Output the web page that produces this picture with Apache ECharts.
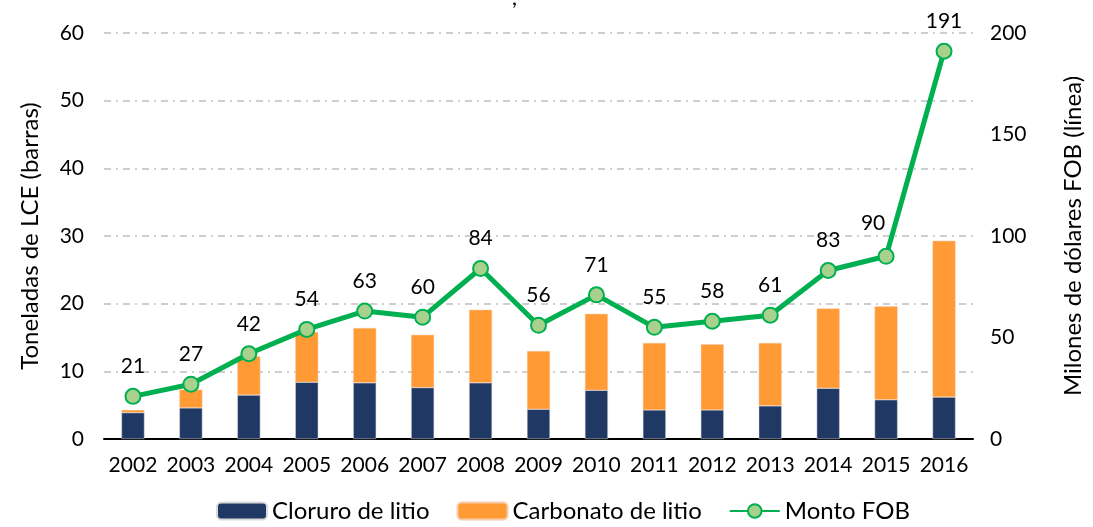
<!DOCTYPE html>
<html>
<head>
<meta charset="utf-8">
<script src="https://cdn.jsdelivr.net/npm/echarts@6/dist/echarts.min.js"></script>
<style>
  html, body { margin: 0; padding: 0; background: #fff; }
  #chart { width: 1093px; height: 527px; }
</style>
</head>
<body>
<div id="chart"></div>
<script>
// datos
var years = ['2002', '2003', '2004', '2005', '2006', '2007', '2008', '2009', '2010', '2011', '2012', '2013', '2014', '2015', '2016']
var cloruro = [3.9, 4.6, 6.5, 8.4, 8.3, 7.6, 8.3, 4.4, 7.2, 4.3, 4.3, 4.9, 7.5, 5.8, 6.2]
var carbonato = [0.4, 2.7, 5.7, 7.4, 8.1, 7.8, 10.8, 8.6, 11.3, 9.9, 9.7, 9.3, 11.8, 13.8, 23.1]
var montoFOB = [21, 27, 42, 54, 63, 60, 84, 56, 71, 55, 58, 61, 83, 90, 191]

var FONT = 'Lato'
var gridLine = { show: true, lineStyle: { color: '#BFBFBF', width: 1.5, type: [7, 5, 2, 5] } }

var chart = echarts.init(document.getElementById('chart'))

var lineData = montoFOB.map(function (v, i) {
  // la etiqueta de 2015 va desplazada con línea guía
  if (years[i] === '2015') {
    return {
      value: v,
      label: { offset: [-13, -3] },
      labelLine: { show: true, lineStyle: { color: '#A6A6A6', width: 1.5 } }
    }
  }
  return v
})

chart.setOption({
  animation: false,
  textStyle: { fontFamily: FONT },
  graphic: [
    { type: 'text', left: 512, top: -13, style: { text: ',', fontSize: 22, fontFamily: FONT, fill: '#000' } }
  ],
  grid: { left: 104, right: 107, top: 33, bottom: 88 },
  legend: {
    bottom: -1,
    left: 211,
    itemWidth: 50,
    itemHeight: 17,
    itemGap: 27,
    textStyle: { fontSize: 24, fontFamily: FONT, color: '#000' },
    data: ['Cloruro de litio', 'Carbonato de litio', 'Monto FOB']
  },
  xAxis: {
    type: 'category',
    data: years,
    axisLine: { lineStyle: { color: '#000', width: 2 } },
    axisTick: { show: false },
    axisLabel: { fontSize: 21, color: '#000', margin: 16, interval: 0 }
  },
  yAxis: [
    {
      type: 'value',
      min: 0,
      max: 60,
      interval: 10,
      name: 'Toneladas de LCE (barras)',
      nameLocation: 'middle',
      nameGap: 62,
      nameTextStyle: { fontSize: 24, color: '#000' },
      axisLine: { show: false },
      axisTick: { show: false },
      axisLabel: { fontSize: 21, color: '#000', margin: 20 },
      splitLine: gridLine
    },
    {
      type: 'value',
      min: 0,
      max: 200,
      interval: 50,
      name: 'Milones de dólares FOB (línea)',
      nameLocation: 'middle',
      nameGap: 88,
      nameRotate: 90,
      nameTextStyle: { fontSize: 24, color: '#000' },
      axisLine: { show: false },
      axisTick: { show: false },
      axisLabel: { fontSize: 21, color: '#000', margin: 17 },
      splitLine: { show: false }
    }
  ],
  series: [
    {
      name: 'Cloruro de litio',
      type: 'bar',
      stack: 'lce',
      barWidth: 23,
      itemStyle: { color: '#203864', borderColor: '#D9D9D9', borderWidth: 0.5 },
      data: cloruro
    },
    {
      name: 'Carbonato de litio',
      type: 'bar',
      stack: 'lce',
      barWidth: 23,
      itemStyle: { color: '#FF9A35', borderColor: '#F8CBAD', borderWidth: 0.5 },
      data: carbonato
    },
    {
      name: 'Monto FOB',
      type: 'line',
      yAxisIndex: 1,
      symbol: 'circle',
      symbolSize: 15,
      lineStyle: { color: '#00B050', width: 5 },
      itemStyle: { color: '#A9D18E', borderColor: '#00B050', borderWidth: 2 },
      label: { show: true, position: 'top', distance: 11, fontSize: 21, color: '#000' },
      z: 5,
      data: lineData
    }
  ]
})
</script>
</body>
</html>
